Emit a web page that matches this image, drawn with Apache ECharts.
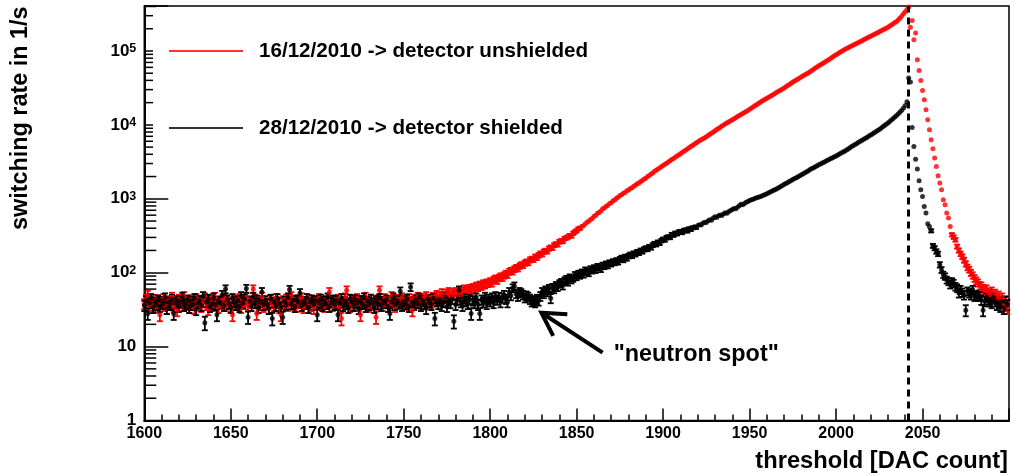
<!DOCTYPE html>
<html><head><meta charset="utf-8">
<script src="https://cdn.jsdelivr.net/npm/echarts@6/dist/echarts.min.js"></script>
<style>html,body{margin:0;padding:0;background:#fff}#chart{width:1014px;height:476px}</style>
</head><body><div id="chart"></div>
<script>
// ---------------- data ----------------
const dacStart = 1600;            // first threshold (DAC count), one point per DAC count
const xRange = [1600, 2100];
const yRange = [1, 406000];
const seriesNames = ['16/12/2010 -> detector unshielded', '28/12/2010 -> detector shielded'];
const measureTime = 1.1;          // s per threshold step (Poisson error bars)
const thresholdLine = 2042;
const noteText = '"neutron spot"';
const arrowHead = [1829.6, 28.8];
const arrowTail = [1865, 8.3];
const notePos = [1871.4, 7.7];
const xTitle = 'threshold [DAC count]';
const yTitle = 'switching rate in 1/s';

const unshielded = [
38,44,50,36,41,39,34,43,37,27,
40,45,36,33,42,38,47,35,40,31,
44,39,36,48,37,41,34,43,39,33,
45,38,42,35,40,46,37,32,43,39,
36,47,40,34,42,38,44,36,41,39,
35,27,43,40,37,45,34,41,38,46,
36,42,39,60,44,28,40,37,47,35,
41,38,33,43,39,36,45,40,34,27,
42,38,44,36,41,48,37,40,35,43,
39,46,34,41,38,44,36,40,33,42,
38,45,37,41,35,43,39,55,40,36,
42,38,44,34,24,40,46,58,39,35,
43,37,41,45,36,27,42,39,47,38,
35,44,40,37,25,43,58,41,36,45,
39,42,37,48,40,35,44,41,38,46,
40,43,37,45,41,31,44,39,47,42,
38,45,41,48,40,44,39,47,43,50,
42,48,53,45,49,52,55,48,53,50,
55,51,57,53,56,60,58,55,61,59,
63,60,66,64,68,66,71,69,73,72,
76,73,80,83,79,85,89,86,92,97,
94,103,107,104,112,117,114,123,128,126,
135,140,137,149,153,151,164,160,172,181,
178,192,198,195,212,220,217,236,244,240,
262,270,266,289,296,305,318,314,341,356,
370,392,401,424,432,461,480,497,524,540,
581,596,637,652,686,731,748,795,812,862,
884,937,962,1018,1045,1105,1130,1190,1218,1280,
1310,1378,1410,1483,1520,1596,1636,1718,1762,1848,
1898,1995,2060,2168,2240,2352,2425,2530,2610,2725,
2810,2930,3030,3150,3265,3390,3516,3648,3785,3927,
4074,4227,4385,4550,4721,4898,5082,5272,5470,5675,
5888,6081,6281,6486,6699,6918,7178,7447,7727,8017,
8318,8630,8954,9290,9638,10000,10330,10670,11010,11380,
11750,12130,12530,12940,13370,13800,14260,14720,15200,15700,
16220,16820,17450,18110,18790,19500,20140,20800,21480,22180,
22910,23660,24430,25230,26060,26910,27790,28700,29640,30610,
31620,32810,34040,35320,36640,38020,39260,40550,41880,43250,
44670,46130,47640,49200,50820,52480,54450,56490,58610,60810,
63100,65160,67300,69500,71780,74130,76910,79800,82800,85900,
89130,92040,95060,98170,101400,104700,107600,110600,113800,117000,
120200,123600,127100,130600,134300,138000,141900,145900,150000,154200,
158500,163000,167500,172200,177000,182000,187100,192400,197800,203400,
209100,216900,225100,233500,242300,251200,264000,280000,298000,318000,
340000,364000,394000,210000,259000,142000,175000,76000,54500,39900,
29200,21900,16000,11700,8590,6290,4750,3560,2740,2050,
1630,1320,970,830,640,548,422,326,303,279,
226,200,180,165,148,132,118,110,100,92,
84,78,73,67,66,61,58,60,53,50,
56,47,52,44,49,40,46,36,42,33
];

const shielded = [
36,42,28,39,45,34,40,37,43,35,
41,38,46,33,40,37,44,28,39,42,
35,40,47,36,38,43,34,41,37,45,
32,39,42,36,48,21,40,44,35,38,
46,37,27,41,39,50,36,60,43,38,
34,45,40,37,42,35,48,39,44,61,
25,41,36,47,39,43,34,40,55,37,
42,38,33,44,24,40,36,45,39,34,
25,41,37,46,59,38,42,35,43,40,
53,36,41,38,45,34,40,43,37,42,
27,39,44,36,41,38,46,35,40,43,
37,42,27,39,45,36,41,38,34,44,
40,36,43,39,33,42,38,46,35,41,
37,44,39,34,42,38,45,36,41,39,
43,35,28,40,46,37,42,39,56,36,
41,38,44,35,64,40,37,43,39,46,
36,42,38,33,44,40,37,45,24,41,
38,43,36,40,47,35,42,39,44,22,
37,43,58,40,36,45,41,38,44,28,
42,39,46,37,28,43,40,47,38,44,
41,46,39,48,43,47,40,46,50,44,
40,55,49,62,66,52,48,55,53,50,
46,49,47,44,41,42,40,44,42,48,
55,52,58,55,61,45,63,60,67,64,
71,74,67,78,82,75,86,80,84,93,
88,97,92,101,95,108,103,99,112,107,
116,109,121,118,112,126,122,131,125,136,
132,141,137,146,140,152,158,150,163,157,
168,175,170,182,178,190,186,199,194,207,
214,209,224,219,236,247,241,258,252,272,
283,278,298,305,300,329,322,343,336,355,
362,349,371,380,367,392,385,405,417,410,
434,447,441,466,483,476,505,520,512,548,
570,556,590,604,596,628,645,638,672,695,
718,741,733,770,805,842,828,866,898,921,
950,968,982,1008,1030,1045,1068,1092,1118,1146,
1172,1203,1234,1271,1305,1334,1378,1423,1470,1518,
1567,1615,1663,1713,1765,1820,1874,1930,1988,2050,
2113,2180,2250,2322,2397,2483,2560,2640,2720,2800,
2880,2960,3040,3130,3220,3310,3400,3495,3595,3695,
3800,3915,4030,4150,4280,4410,4570,4730,4900,5080,
5260,5430,5610,5800,5990,6190,6390,6600,6820,7050,
7280,7540,7810,8090,8380,8680,9030,9400,9790,10190,
10610,11100,11620,12170,12750,13360,14100,14900,15800,16900,
18300,20500,43000,38000,9220,5100,3440,2520,1750,1320,
1070,787,640,459,422,369,231,215,194,180,
128,109,94,89,80,76,69,76,72,65,
62,53,59,54,50,31,56,53,50,59,
48,50,48,48,43,31,41,46,43,41,
39,46,41,37,39,35,41,33,41,37
];

// ---------------- chart ----------------
const FONT = '"Liberation Sans", Arial, Helvetica, sans-serif';
const RED = '#ff0000', BLACK = '#000000';
const toPairs = arr => arr.map((v, i) => [dacStart + i, v]);
const redData = toPairs(unshielded);
const blackData = toPairs(shielded);

function errBars(color) {
  return function (params, api) {
    const x = api.value(0), v = api.value(1);
    const e = Math.sqrt(v * measureTime) / measureTime;
    const top = api.coord([x, v + e]);
    const bot = api.coord([x, Math.max(v - e, 1e-3)]);
    if (bot[1] - top[1] < 3) return null;
    const c = 3, st = { stroke: color, lineWidth: 1.8 };
    return { type: 'group', children: [
      { type: 'line', shape: { x1: top[0], y1: top[1], x2: bot[0], y2: bot[1] }, style: st },
      { type: 'line', shape: { x1: top[0] - c, y1: top[1], x2: top[0] + c, y2: top[1] }, style: st },
      { type: 'line', shape: { x1: bot[0] - c, y1: bot[1], x2: bot[0] + c, y2: bot[1] }, style: st }
    ] };
  };
}

// minor ticks of the log axis at 2..9 x 10^k
const yMinor = [];
for (let k = 0; k < 6; k++) for (let m = 2; m <= 9; m++) { const v = m * Math.pow(10, k); if (v < yRange[1]) yMinor.push([xRange[0], v]); }

const chart = echarts.init(document.getElementById('chart'), null, { renderer: 'canvas' });
chart.setOption({
  animation: false,
  backgroundColor: '#fff',
  grid: { left: 144.3, right: 5, top: 6, bottom: 55.5, show: true, borderColor: '#000', borderWidth: 1.5, backgroundColor: 'transparent', containLabel: false, outerBoundsMode: 'none' },
  legend: {
    orient: 'vertical', left: 153, top: 8, padding: [32, 10, 31, 16],
    backgroundColor: '#fff', itemWidth: 74, itemHeight: 2, itemGap: 55, icon: 'rect', selectedMode: false,
    textStyle: { fontSize: 20.6, fontWeight: 'bold', fontFamily: FONT, color: '#000', lineHeight: 22, padding: [0, 0, 0, 11] },
    data: seriesNames
  },
  xAxis: {
    type: 'value', min: xRange[0], max: xRange[1], interval: 50,
    axisLine: { show: true, onZero: false, lineStyle: { color: '#000', width: 2 } },
    axisTick: { show: true, inside: true, length: 12, lineStyle: { color: '#000', width: 1.5 } },
    minorTick: { show: true, splitNumber: 5, length: 6, lineStyle: { color: '#000', width: 1.5 } },
    splitLine: { show: false }, minorSplitLine: { show: false },
    axisLabel: { margin: 5, fontSize: 16, fontWeight: 'bold', fontFamily: FONT, color: '#000', formatter: v => v >= xRange[1] ? '' : String(v) },
    name: xTitle, nameLocation: 'end', nameGap: -1, nameMoveOverlap: false,
    nameTextStyle: { fontSize: 23.7, fontWeight: 'bold', fontFamily: FONT, color: '#000', align: 'right', verticalAlign: 'top', lineHeight: 24, padding: [29, 0, 0, 0] }
  },
  yAxis: {
    type: 'log', logBase: 10, min: yRange[0], max: yRange[1],
    axisLine: { show: true, onZero: false, lineStyle: { color: '#000', width: 2 } },
    axisTick: { show: true, inside: true, length: 24, lineStyle: { color: '#000', width: 1.5 } },
    splitLine: { show: false },
    axisLabel: {
      margin: 8, color: '#000',
      formatter: v => {
        const l = Math.log10(v), k = Math.round(l);
        if (Math.abs(l - k) > 1e-6) return '';
        if (k === 0) return '{b|1}';
        if (k === 1) return '{b|10}';
        return '{bb|10}{sup|' + k + '}';
      },
      rich: {
        b: { fontSize: 17, fontWeight: 'bold', fontFamily: FONT, color: '#000' },
        bb: { fontSize: 17, fontWeight: 'bold', fontFamily: FONT, color: '#000', lineHeight: 17, verticalAlign: 'bottom' },
        sup: { fontSize: 12.5, fontWeight: 'bold', fontFamily: FONT, color: '#000', lineHeight: 12, verticalAlign: 'top', padding: [0, 0, 8, 0] }
      }
    },
    name: yTitle, nameLocation: 'middle', nameGap: 112, nameRotate: 90, nameMoveOverlap: false,
    nameTextStyle: { fontSize: 23.4, fontWeight: 'bold', fontFamily: FONT, color: '#000', padding: [0, 0, 0, 190] }
  },
  series: [
    { type: 'custom', silent: true, data: redData, renderItem: errBars(RED), z: 2 },
    { type: 'scatter', name: seriesNames[0], data: redData, symbol: 'circle', symbolSize: 5, itemStyle: { color: RED }, silent: true, z: 2,
      markLine: { silent: true, symbol: 'none', label: { show: false }, lineStyle: { color: '#000', type: [7, 5], width: 3 }, data: [{ xAxis: thresholdLine }] } },
    { type: 'custom', silent: true, data: blackData, renderItem: errBars(BLACK), z: 2 },
    { type: 'scatter', name: seriesNames[1], data: blackData, symbol: 'circle', symbolSize: 5, itemStyle: { color: BLACK }, silent: true, z: 2 },
    { type: 'custom', silent: true, data: yMinor, z: 1, renderItem: (p, api) => {
        const c = api.coord([api.value(0), api.value(1)]);
        return { type: 'line', shape: { x1: c[0], y1: c[1], x2: c[0] + 12, y2: c[1] }, style: { stroke: '#000', lineWidth: 1.5 } };
      } },
    { type: 'custom', silent: true, data: [arrowHead], z: 3, renderItem: (p, api) => {
        const head = api.coord(arrowHead), tail = api.coord(arrowTail), tp = api.coord(notePos);
        const ang = Math.atan2(tail[1] - head[1], tail[0] - head[0]);
        const wl = 26, sp = 0.52;
        const w1 = [head[0] + wl * Math.cos(ang - sp), head[1] + wl * Math.sin(ang - sp)];
        const w2 = [head[0] + wl * Math.cos(ang + sp), head[1] + wl * Math.sin(ang + sp)];
        return { type: 'group', children: [
          { type: 'line', shape: { x1: tail[0], y1: tail[1], x2: head[0] + 2 * Math.cos(ang), y2: head[1] + 2 * Math.sin(ang) }, style: { stroke: '#000', lineWidth: 4 } },
          { type: 'polyline', shape: { points: [w1, head, w2] }, style: { stroke: '#000', lineWidth: 4, fill: null, lineJoin: 'miter' } },
          { type: 'text', x: tp[0], y: tp[1], style: { text: noteText, fill: '#000', fontSize: 23.4, fontWeight: 'bold', fontFamily: FONT, align: 'left', verticalAlign: 'middle' } }
        ] };
      } }
  ]
});
</script>
</body></html>
